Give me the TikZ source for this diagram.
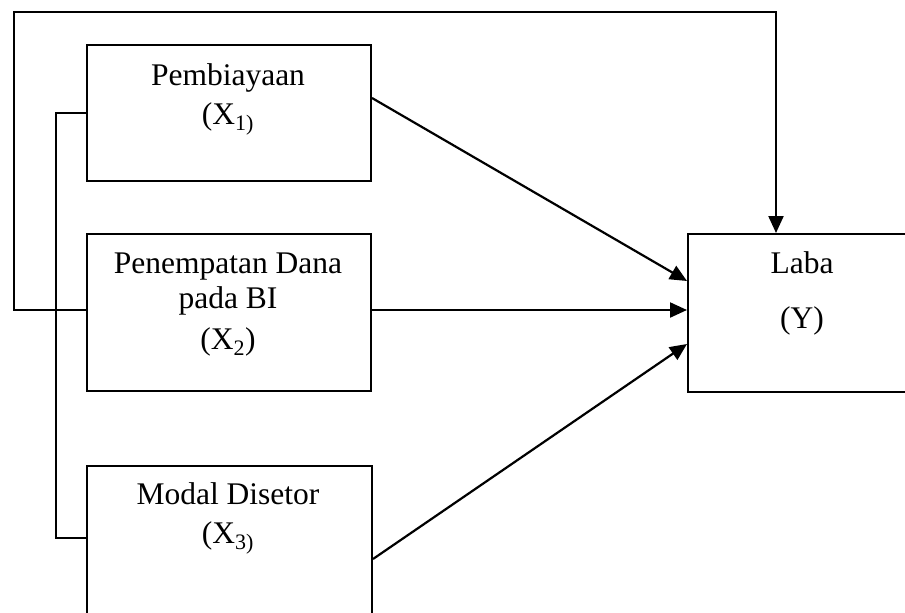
\documentclass[tikz,border=0pt]{standalone}
\usepackage{fontspec}
\setmainfont{Liberation Serif}
\usetikzlibrary{arrows.meta,calc}
\begin{document}
\begin{tikzpicture}[x=1pt,y=-1pt,
  box/.style={draw,line width=2pt,rectangle,inner sep=0pt,anchor=north west},
  lbl/.style={anchor=base,inner sep=0pt,font=\fontsize{31.5}{36}\selectfont},
  conn/.style={line width=2.2pt},
  arr/.style={conn,-{Triangle[length=17pt,width=15pt]}}]
\useasboundingbox (0,0) rectangle (905,613);
\clip (0,0) rectangle (905,613);
\node[box,minimum width=284pt,minimum height=136pt] (b1) at (86,44) {};
\node[box,minimum width=284pt,minimum height=157pt] (b2) at (86,233) {};
\node[box,minimum width=285pt,minimum height=200pt] (b3) at (86,465) {};
\node[box,minimum width=260pt,minimum height=158pt] (laba) at (687,233) {};
\node[lbl] (t1a) at (228,85) {Pembiayaan};
\node[lbl] (t1b) at (228,124) {(X\textsubscript{1)}};
\node[lbl] (t2a) at (228,273) {Penempatan Dana};
\node[lbl] (t2b) at (228,308) {pada BI};
\node[lbl] (t2c) at (228,349) {(X\textsubscript{2})};
\node[lbl] (t3a) at (228,504) {Modal Disetor};
\node[lbl] (t3b) at (228,543) {(X\textsubscript{3)}};
\node[lbl] (ty1) at (802,273) {Laba};
\node[lbl] (ty2) at (802,328) {(Y)};
\coordinate (tl) at (14,12);
\coordinate (tr) at (776,12);
\coordinate (b1e) at (b1.north east |- 0,98);
\coordinate (b3e) at (b3.north east |- 0,559);
\coordinate (b3w) at (b3.north west |- 0,538);
\coordinate (y1) at (laba.north west |- 0,281);
\coordinate (y2) at (laba.north west |- 0,310);
\coordinate (y3) at (laba.north west |- 0,344);
\draw[arr] (b2.west |- 0,310) -| (tl) -- (tr) -- (tr |- laba.north);
\draw[conn] (b1.west) -| (56,330) |- (b3w);
\draw[arr] (b1e) -- (y1);
\draw[arr] (b2.east |- 0,310) -- (y2);
\draw[arr] (b3e) -- (y3);
\end{tikzpicture}
\end{document}
